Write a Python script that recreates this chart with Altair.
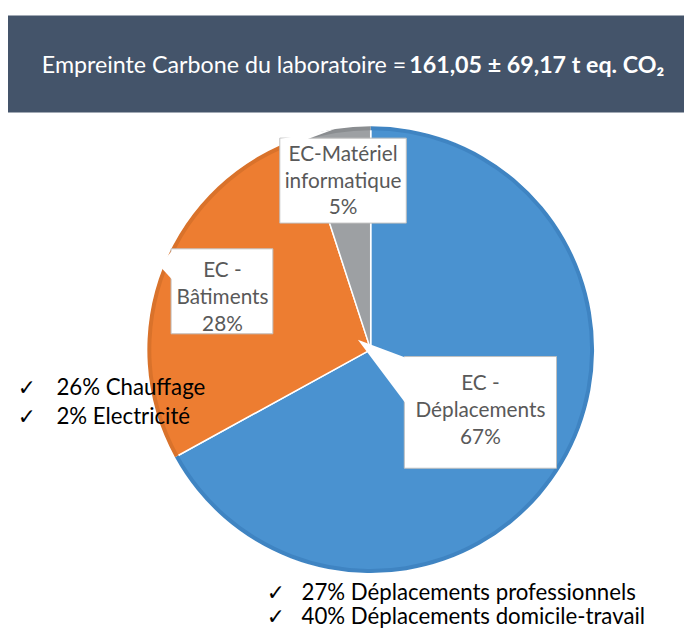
import altair as alt
import pandas as pd

# ---- data ----
categories = ["EC - Déplacements", "EC - Bâtiments", "EC-Matériel informatique"]
values = [67, 28, 5]
label_lines = ["EC -\nDéplacements\n67%", "EC -\nBâtiments\n28%", "EC-Matériel\ninformatique\n5%"]
left_items = ["26% Chauffage", "2% Electricité"]
bottom_items = ["27% Déplacements professionnels", "40% Déplacements domicile-travail"]
title_normal = "Empreinte Carbone du laboratoire ="
title_bold = "161,05 ± 69,17 t eq. CO₂"

# ---- styles / layout (page pixel coordinates) ----
slice_colors = ["#4A92D0", "#ED7D31", "#9DA0A3"]
edge_colors = ["#3F84C2", "#D9722B", "#8A8D90"]
banner_color = "#44546A"
FONT = "Lato"
W, H = 684, 620
CX, CY, R = 367, 342, 226  # chart coordinates of pie centre

X = alt.Scale(domain=[8, 8 + W], range=[0, W])
Y = alt.Scale(domain=[8, 8 + H], range=[0, H])

pie_df = pd.DataFrame({"cat": categories, "value": values, "order": [0, 1, 2]})

color = alt.Color("cat:N", scale=alt.Scale(domain=categories, range=slice_colors), legend=None)

pie = alt.Chart(pie_df).mark_arc(outerRadius=R, stroke="white", strokeWidth=1.5).encode(
    theta=alt.Theta("value:Q", stack=True),
    color=color,
    order=alt.Order("order:Q"),
    x=alt.value(CX), y=alt.value(CY),
)
ring = alt.Chart(pie_df).mark_arc(outerRadius=R, innerRadius=R - 4).encode(
    theta=alt.Theta("value:Q", stack=True),
    fill=alt.Fill("cat:N", scale=alt.Scale(domain=categories, range=edge_colors), legend=None),
    order=alt.Order("order:Q"),
    x=alt.value(CX), y=alt.value(CY),
)

# banner
banner_df = pd.DataFrame({"x": [8], "x2": [700], "y": [12], "y2": [110]})
banner = alt.Chart(banner_df).mark_rect(color=banner_color).encode(
    x=alt.X("x:Q", scale=X, axis=None), x2="x2:Q",
    y=alt.Y("y:Q", scale=Y, axis=None), y2="y2:Q",
)
t1 = alt.Chart(pd.DataFrame({"x": [411], "y": [63], "t": [title_normal]})).mark_text(
    font=FONT, fontSize=23.5, color="white", align="right", baseline="middle"
).encode(x=alt.X("x:Q", scale=X, axis=None), y=alt.Y("y:Q", scale=Y, axis=None), text="t:N")
t2 = alt.Chart(pd.DataFrame({"x": [414], "y": [63], "t": [title_bold]})).mark_text(
    font=FONT, fontSize=23.5, color="white", fontWeight="bold", align="left", baseline="middle"
).encode(x=alt.X("x:Q", scale=X, axis=None), y=alt.Y("y:Q", scale=Y, axis=None), text="t:N")

# callout boxes
boxes_df = pd.DataFrame({
    "x": [409, 173, 283], "x2": [563, 276, 411],
    "y": [357, 248, 136], "y2": [470, 334, 222],
})
boxes = alt.Chart(boxes_df).mark_rect(fill="white", stroke="#BFBFBF", strokeWidth=1).encode(
    x=alt.X("x:Q", scale=X, axis=None), x2="x2:Q",
    y=alt.Y("y:Q", scale=Y, axis=None), y2="y2:Q",
)

pointer_layers = []
pointers = [
    {"x": [362, 410], "y": [340, 358], "y2": [340, 404]},
    {"x": [161, 174], "y": [265, 250], "y2": [265, 279]},
    {"x": [283, 310, 338], "y": [137, 132, 127], "y2": [137, 137.5, 127]},
]
for p in pointers:
    pointer_layers.append(
        alt.Chart(pd.DataFrame(p)).mark_area(color="white", opacity=1).encode(
            x=alt.X("x:Q", scale=X, axis=None),
            y=alt.Y("y:Q", scale=Y, axis=None), y2="y2:Q",
        )
    )

# y = centre of first line
labels_df = pd.DataFrame({"x": [486, 225, 347], "y": [385, 271, 153], "t": label_lines})
labels = alt.Chart(labels_df).mark_text(
    font=FONT, fontSize=21, color="#595959", lineBreak="\n", lineHeight=27, baseline="middle"
).encode(x=alt.X("x:Q", scale=X, axis=None), y=alt.Y("y:Q", scale=Y, axis=None), text="t:N")

# check lists
items_df = pd.DataFrame({
    "cx": [27, 27, 279, 279],
    "tx": [57, 57, 305, 305],
    "y": [389, 418, 596, 621],
    "t": left_items + bottom_items,
    "c": ["✓"] * 4,
})
checks = alt.Chart(items_df).mark_text(
    font="DejaVu Sans", fontSize=22, color="black", baseline="middle"
).encode(x=alt.X("cx:Q", scale=X, axis=None), y=alt.Y("y:Q", scale=Y, axis=None), text="c:N")
items = alt.Chart(items_df).mark_text(
    font=FONT, fontSize=22.5, color="black", baseline="middle", align="left"
).encode(x=alt.X("tx:Q", scale=X, axis=None), y=alt.Y("y:Q", scale=Y, axis=None), text="t:N")

chart = alt.layer(
    banner, t1, t2, pie, ring, boxes, *pointer_layers, labels, checks, items
).properties(
    width=W, height=H, autosize=alt.AutoSizeParams(type="none"), padding=0, background="white"
).configure_view(stroke=None)

chart.save("out.html", embed_options={"renderer": "svg", "actions": False})
